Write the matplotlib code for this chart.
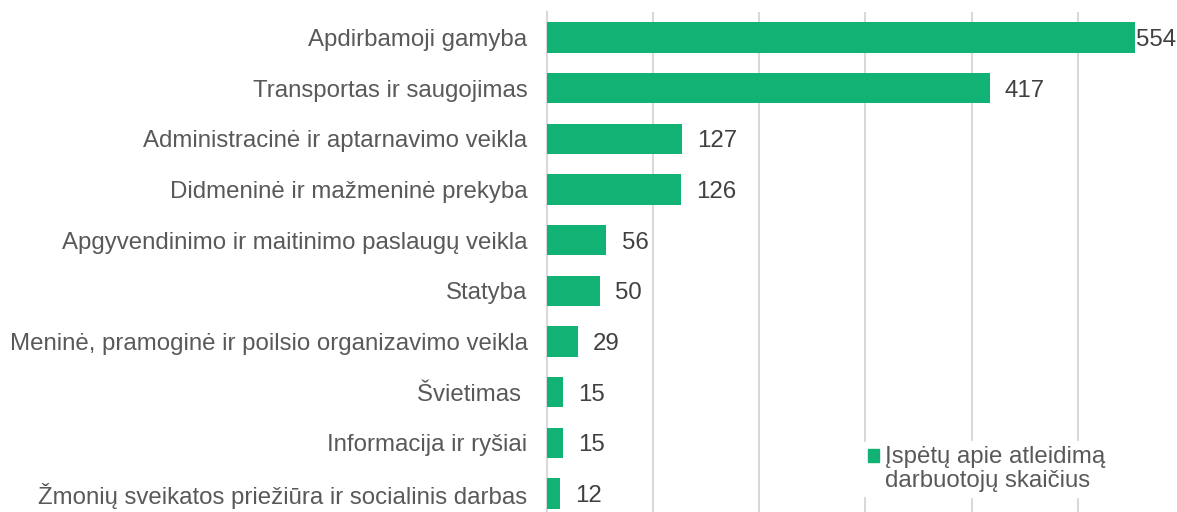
import matplotlib.pyplot as plt
from matplotlib.patches import Patch, Rectangle
from matplotlib.legend_handler import HandlerPatch

categories = ["Apdirbamoji gamyba", "Transportas ir saugojimas",
              "Administracinė ir aptarnavimo veikla", "Didmeninė ir mažmeninė prekyba",
              "Apgyvendinimo ir maitinimo paslaugų veikla", "Statyba",
              "Meninė, pramoginė ir poilsio organizavimo veikla", "Švietimas ",
              "Informacija ir ryšiai", "Žmonių sveikatos priežiūra ir socialinis darbas"]
values = [554, 417, 127, 126, 56, 50, 29, 15, 15, 12]
legend_label = "Įspėtų apie atleidimą\ndarbuotojų skaičius"

green = "#12B274"
gray = "#595959"
fs = 17.3
plt.rcParams['font.family'] = ['Liberation Sans', 'DejaVu Sans']

fig = plt.figure(figsize=(11.77, 5.12), dpi=100)
ax = fig.add_axes([547/1177, -7/512, 630/1177, 507/512])

ypos = list(range(len(values)))
ax.barh(ypos, values, height=0.6, color=green, zorder=3)
xmax = 630/1.0614
ax.set_xlim(0, xmax)
ax.set_ylim(9.5, -0.5)

for y, v in zip(ypos, values):
    off = 0.5 if v > 0.9*xmax else 11
    ax.annotate(str(v), (v, y), xytext=(off, 0), textcoords='offset points',
                va='center_baseline', ha='left', fontsize=fs, color="#404040")

ax.set_yticks(ypos)
ax.set_yticklabels(categories, fontsize=fs, color=gray)
ax.tick_params(axis='y', length=0, pad=14)
ax.set_xticks(range(100, 600, 100))
ax.tick_params(axis='x', length=0, labelbottom=False)
ax.grid(axis='x', color='#d9d9d9', linewidth=1.5, zorder=0)
for s in ['top', 'right', 'bottom']:
    ax.spines[s].set_visible(False)
ax.spines['left'].set_color('#d9d9d9')
ax.spines['left'].set_linewidth(1.5)


# put the legend square next to the first text line
def top_square(legend, orig_handle, xdescent, ydescent, width, height, fontsize):
    return Rectangle((-xdescent, -ydescent + 10), width, height)


leg = ax.legend(handles=[Patch(color=green, label=legend_label)], loc='upper left',
                bbox_to_anchor=(851/1177, 1 - 429/512), bbox_transform=fig.transFigure,
                frameon=True, framealpha=1, edgecolor='white', fontsize=fs,
                handlelength=0.45, handleheight=0.45, handletextpad=0.25,
                borderpad=0.2, labelcolor=gray,
                handler_map={Patch: HandlerPatch(patch_func=top_square)})
leg.get_texts()[0].set_linespacing(1.15)
leg.set_zorder(5)

fig.savefig("out.png", dpi=100)
